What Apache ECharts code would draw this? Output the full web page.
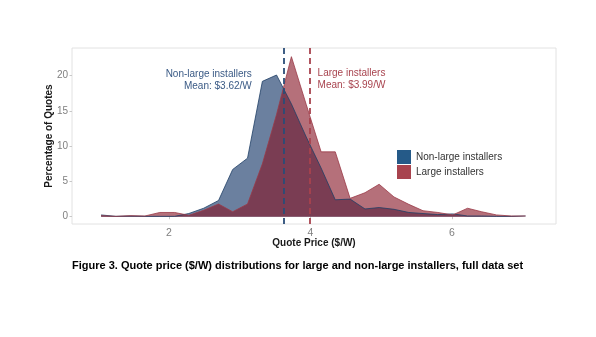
<!DOCTYPE html>
<html>
<head>
<meta charset="utf-8">
<script src="https://cdn.jsdelivr.net/npm/echarts@6/dist/echarts.min.js"></script>
<style>
html,body{margin:0;padding:0;background:#fff;}
#chart{width:596px;height:337px;}
</style>
</head>
<body>
<div id="chart"></div>
<script>
// Bin centres (Quote price, $/W)
const priceBins = [1.04,1.25,1.45,1.66,1.87,2.08,2.28,2.49,2.70,2.90,3.11,3.32,3.52,3.73,3.94,4.15,4.35,4.56,4.77,4.97,5.18,5.39,5.59,5.80,6.01,6.22,6.42,6.63,6.84,7.04];
// Percentage of quotes
const nonLargePct = [0.25,0.05,0.1,0.05,0.05,0.05,0.45,1.2,2.3,6.7,8.3,19.2,20.1,16.0,11.3,6.9,2.4,2.5,1.1,1.3,1.05,0.6,0.45,0.3,0.4,0.1,0.1,0.05,0.05,0.1];
const largePct    = [0.15,0.05,0.15,0.1,0.6,0.6,0.2,0.9,1.8,0.7,1.8,7.5,14.5,22.7,15.9,9.2,9.2,2.6,3.4,4.6,2.8,1.75,0.85,0.6,0.25,1.2,0.7,0.25,0.1,0.1];
const seriesNames = ['Non-large installers','Large installers'];
const means = [3.62, 3.99];
const meanLabels = ['Non-large installers\nMean: $3.62/W','Large installers\nMean: $3.99/W'];
const xTicks = [2,4,6];
const yTicks = [0,5,10,15,20];
const caption = 'Figure 3. Quote price ($/W) distributions for large and non-large installers, full data set';

// annotation anchors (data space)
const annoNonLarge = [3.17, 19.3];
const annoLarge = [4.10, 19.45];

const FONT = '"Liberation Sans", Arial, Helvetica, sans-serif';
const pairs = (ys) => priceBins.map((x,i)=>[x, ys[i]]);

const chart = echarts.init(document.getElementById('chart'), null, {renderer:'canvas'});
const option = {
  animation:false,
  textStyle:{fontFamily:FONT},
  title:{text:caption, left:72, top:260, padding:0, textStyle:{fontSize:11, fontWeight:'bold', color:'#000', fontFamily:FONT}},
  grid:{left:72, top:48, width:484, height:176, show:true, borderColor:'#e2e2e2', borderWidth:1, backgroundColor:'transparent'},
  legend:{
    orient:'vertical', left:397, top:150, padding:0, itemWidth:14, itemHeight:14, itemGap:1,
    textStyle:{fontSize:10, color:'#333', fontFamily:FONT},
    itemStyle:{borderWidth:0},
    data:[
      {name:seriesNames[0], icon:'rect', itemStyle:{color:'#255a88'}},
      {name:seriesNames[1], icon:'rect', itemStyle:{color:'#a8434e'}}
    ]
  },
  xAxis:{
    type:'value', min:0.629, max:7.47,
    name:'Quote Price ($/W)', nameLocation:'middle', nameGap:14, nameMoveOverlap:false,
    nameTextStyle:{fontWeight:'bold', fontSize:10, color:'#1a1a1a', fontFamily:FONT},
    axisLine:{show:false},
    axisTick:{show:true, customValues:xTicks, length:2.5, lineStyle:{color:'#c8c8c8'}},
    axisLabel:{customValues:xTicks, fontSize:10.5, color:'#7f7f7f', margin:4, fontFamily:FONT},
    splitLine:{show:false}
  },
  yAxis:{
    type:'value', min:-1.035, max:23.93,
    name:'Percentage of Quotes', nameLocation:'middle', nameGap:18, nameRotate:90, nameMoveOverlap:false,
    nameTextStyle:{fontWeight:'bold', fontSize:10, color:'#1a1a1a', fontFamily:FONT},
    axisLine:{show:false},
    axisTick:{show:true, customValues:yTicks, length:2.5, lineStyle:{color:'#c8c8c8'}},
    axisLabel:{customValues:yTicks, fontSize:10, color:'#7f7f7f', margin:4, fontFamily:FONT},
    splitLine:{show:false}
  },
  series:[
    {
      name:seriesNames[0], type:'line', data:pairs(nonLargePct), symbol:'none', smooth:false,
      itemStyle:{color:'#255a88'},
      lineStyle:{color:'#1f3f66', width:0.8},
      areaStyle:{color:'rgba(16,50,100,0.62)', opacity:1, origin:0},
      markLine:{
        silent:true, symbol:'none', label:{show:false},
        lineStyle:{color:'#2b4d78', type:[6,4], width:1.8},
        data:[{xAxis:means[0]}]
      },
      markPoint:{
        symbol:'circle', symbolSize:0,
        data:[{coord:annoNonLarge, value:0}],
        label:{show:true, position:'inside', formatter:meanLabels[0], align:'right', verticalAlign:'middle',
          color:'#3a5a85', fontSize:10, lineHeight:12, fontFamily:FONT}
      }
    },
    {
      name:seriesNames[1], type:'line', data:pairs(largePct), symbol:'none', smooth:false,
      itemStyle:{color:'#a8434e'},
      lineStyle:{color:'#9a3a48', width:0.8},
      areaStyle:{color:'rgba(132,17,33,0.6)', opacity:1, origin:0},
      markLine:{
        silent:true, symbol:'none', label:{show:false},
        lineStyle:{color:'#a8434e', type:[6,4], width:1.8},
        data:[{xAxis:means[1]}]
      },
      markPoint:{
        symbol:'circle', symbolSize:0,
        data:[{coord:annoLarge, value:0}],
        label:{show:true, position:'inside', formatter:meanLabels[1], align:'left', verticalAlign:'middle',
          color:'#a8434e', fontSize:10, lineHeight:12, fontFamily:FONT}
      }
    }
  ]
};
chart.setOption(option);
</script>
</body>
</html>
